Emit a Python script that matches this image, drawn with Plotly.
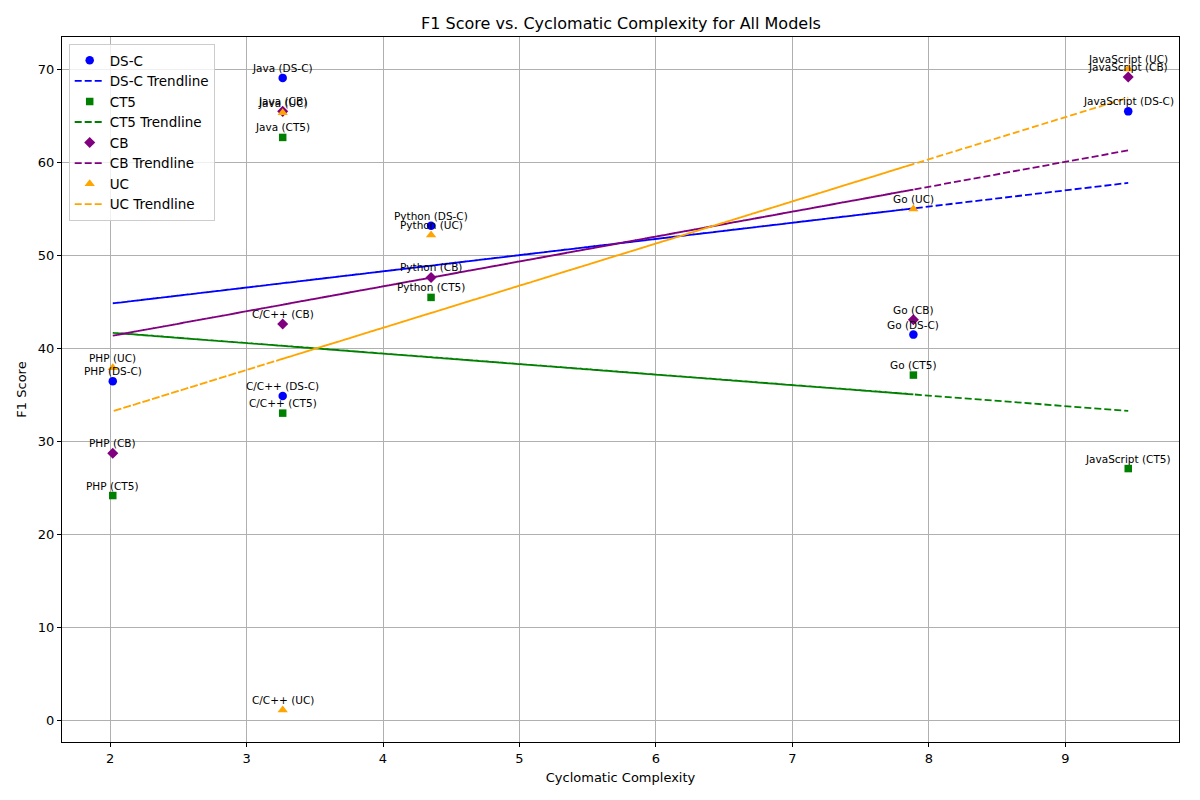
import numpy as np
import plotly.graph_objects as go

languages = ["Java", "Python", "Go", "PHP", "C/C++", "JavaScript"]
complexity = [3.265, 4.352, 7.886, 2.02, 3.265, 9.46]

models = ["DS-C", "CT5", "CB", "UC"]
f1_dsc = [69.1, 53.2, 41.5, 36.5, 34.9, 65.5]
f1_ct5 = [62.7, 45.5, 37.15, 24.2, 33.06, 27.1]
f1_cb = [65.5, 47.65, 43.1, 28.75, 42.65, 69.2]
f1_uc = [65.35, 52.2, 55.0, 37.95, 1.15, 70.05]

series = [f1_dsc, f1_ct5, f1_cb, f1_uc]
colors = ["blue", "green", "purple", "orange"]
symbols = ["circle", "square", "diamond", "triangle-up"]
sizes = [8.5, 7.5, 8.5, 9]

FONT = "DejaVu Sans"
fig = go.Figure()

x = np.array(complexity)
for name, ys, col, sym, sz in zip(models, series, colors, symbols, sizes):
    y = np.array(ys)
    fig.add_trace(go.Scatter(x=x, y=y, mode="markers", name=name,
                             marker=dict(color=col, symbol=sym, size=sz, line=dict(width=0))))
    slope, intercept = np.polyfit(x, y, 1)
    fig.add_trace(go.Scatter(x=x, y=slope * x + intercept, mode="lines",
                             name=f"{name} Trendline",
                             line=dict(color=col, width=1.8, dash="7px,3px", simplify=False)))
    for lang, xi, yi in zip(languages, complexity, ys):
        fig.add_annotation(x=xi, y=yi, text=f"{lang} ({name})", showarrow=False,
                           yshift=10, font=dict(family=FONT, size=10.5, color="black"))

allx = np.array(complexity)
ally = np.concatenate([np.array(s) for s in series])
xr = allx.max() - allx.min()
yr = ally.max() - ally.min()

axis_common = dict(showgrid=True, gridcolor="#b0b0b0", gridwidth=1,
                   showline=True, linecolor="black", linewidth=1, mirror=True,
                   ticks="outside", ticklen=4, tickcolor="black",
                   tickfont=dict(family=FONT, size=13, color="black"),
                   zeroline=False, automargin=False)

fig.update_layout(
    width=1200, height=800,
    paper_bgcolor="white", plot_bgcolor="white",
    margin=dict(l=62, r=21, t=37, b=58),
    title=dict(text="F1 Score vs. Cyclomatic Complexity for All Models",
               x=0.5175, xanchor="center", y=1 - 23 / 800, yanchor="middle",
               font=dict(family=FONT, size=16, color="black")),
    xaxis=dict(range=[allx.min() - 0.05 * xr, allx.max() + 0.05 * xr], dtick=1,
               title=dict(text="Cyclomatic Complexity", standoff=8,
                          font=dict(family=FONT, size=13, color="black")),
               **axis_common),
    yaxis=dict(range=[ally.min() - 0.05 * yr, ally.max() + 0.05 * yr], dtick=10,
               title=dict(text="F1 Score", standoff=8,
                          font=dict(family=FONT, size=13, color="black")),
               **axis_common),
    legend=dict(x=0.006, y=0.99, xanchor="left", yanchor="top",
                bgcolor="rgba(255,255,255,0.8)", bordercolor="#cccccc", borderwidth=1,
                font=dict(family=FONT, size=13.5, color="black"),
                itemwidth=30, tracegroupgap=0),
    showlegend=True,
)

fig.write_html("out.html", config={"displayModeBar": False},
               post_script="document.body.style.margin='0';")
